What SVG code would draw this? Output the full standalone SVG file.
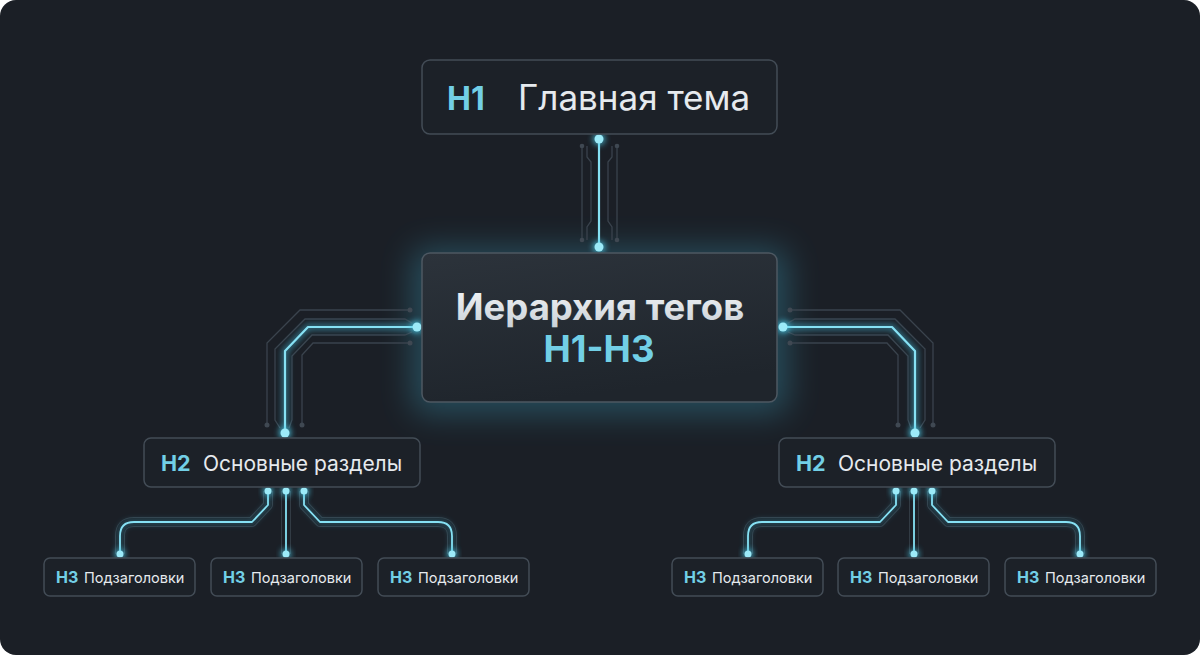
<svg xmlns="http://www.w3.org/2000/svg" xmlns:xlink="http://www.w3.org/1999/xlink" width="1200" height="655" viewBox="0 0 1200 655">
<defs>
<style>
.box{fill:#1c2128;stroke:#434c56;stroke-width:1.5}
.hl{font-family:Inter,"Noto Sans",sans-serif;font-weight:700;fill:#72cfe6}
.tx{font-family:Inter,"Noto Sans",sans-serif;font-weight:400;fill:#e6eaee}
.cy{fill:none;stroke:#86e1f4;stroke-width:2.2;stroke-linejoin:round}
.cyg{fill:none;stroke:#4cc6e6;stroke-width:6;opacity:0.5;filter:url(#blur3)}
.gr{fill:none;stroke:#3a434d;stroke-width:1.3}
.gd{fill:#3f4852}
.dot{fill:#9ceaf8}
.dotg{fill:#4fd0ee;opacity:0.8;filter:url(#blur3)}
.edge{fill:none;stroke:#323b44;stroke-width:10;stroke-linejoin:round}
.edgein{fill:none;stroke:#1b1f26;stroke-width:8;stroke-linejoin:round}
</style>
<filter id="blur3" x="-50%" y="-50%" width="200%" height="200%"><feGaussianBlur stdDeviation="3"/></filter>
<filter id="blur14" x="-30%" y="-30%" width="160%" height="160%"><feGaussianBlur stdDeviation="16"/></filter>
<linearGradient id="cbox" x1="0" y1="0" x2="0.3" y2="1">
<stop offset="0" stop-color="#2c333b"/>
<stop offset="1" stop-color="#1f252c"/>
</linearGradient>
<linearGradient id="ctext" x1="0" y1="0" x2="0" y2="1">
<stop offset="0" stop-color="#f4f6f8"/>
<stop offset="1" stop-color="#c9d0d6"/>
</linearGradient>
<g id="sideConn">
<path class="gr" d="M410,310 H300 L267,343 V425"/>
<path class="gr" d="M412,323 L405,319 H305 L275,349 V420 L280,428"/>
<path class="gr" d="M412,332 L405,335 H312 L292,356 V420 L289,428"/>
<path class="gr" d="M410,343 H313 L302,355 V425"/>
<circle class="gd" cx="410" cy="310" r="2.5"/>
<circle class="gd" cx="410" cy="343" r="2.5"/>
<circle class="gd" cx="267" cy="425" r="2.5"/>
<circle class="gd" cx="302" cy="425" r="2.5"/>
<path class="cyg" d="M417,327 H308 L285,351 V433"/>
<path class="cy" d="M417,327 H308 L285,351 V433"/>
<circle class="dotg" cx="417" cy="327" r="6"/>
<circle class="dot" cx="417" cy="327" r="4.5"/>
<circle class="dotg" cx="285" cy="433" r="6"/>
<circle class="dot" cx="285" cy="433" r="4.5"/>
<path class="edge" d="M268,491 V505 L252,522 H134 Q120,522 120,536 V554"/>
<path class="edge" d="M286,491 V554"/>
<path class="edge" d="M304,491 V505 L320,522 H438 Q452,522 452,536 V554"/>
<path class="edgein" d="M268,491 V505 L252,522 H134 Q120,522 120,536 V554"/>
<path class="edgein" d="M286,491 V554"/>
<path class="edgein" d="M304,491 V505 L320,522 H438 Q452,522 452,536 V554"/>
<path class="cyg" d="M268,491 V505 L252,522 H134 Q120,522 120,536 V554" style="stroke-width:4;opacity:0.4"/>
<path class="cyg" d="M286,491 V554" style="stroke-width:4;opacity:0.4"/>
<path class="cyg" d="M304,491 V505 L320,522 H438 Q452,522 452,536 V554" style="stroke-width:4;opacity:0.4"/>
<path class="cy" style="stroke-width:1.8" d="M268,491 V505 L252,522 H134 Q120,522 120,536 V554"/>
<path class="cy" style="stroke-width:1.8" d="M286,491 V554"/>
<path class="cy" style="stroke-width:1.8" d="M304,491 V505 L320,522 H438 Q452,522 452,536 V554"/>
<g>
<circle class="dotg" cx="268" cy="491" r="5"/><circle class="dot" cx="268" cy="491" r="3.5"/>
<circle class="dotg" cx="286" cy="491" r="5"/><circle class="dot" cx="286" cy="491" r="3.5"/>
<circle class="dotg" cx="304" cy="491" r="5"/><circle class="dot" cx="304" cy="491" r="3.5"/>
<circle class="dotg" cx="120" cy="554" r="5"/><circle class="dot" cx="120" cy="554" r="3.5"/>
<circle class="dotg" cx="286" cy="554" r="5"/><circle class="dot" cx="286" cy="554" r="3.5"/>
<circle class="dotg" cx="452" cy="554" r="5"/><circle class="dot" cx="452" cy="554" r="3.5"/>
</g>
</g>
</defs>
<rect x="0" y="0" width="1200" height="655" fill="#ffffff"/>
<rect x="0" y="0" width="1200" height="655" rx="16" fill="#1b1f26"/>

<rect x="412" y="248" width="376" height="166" rx="14" fill="#3fb7d8" opacity="0.3" filter="url(#blur14)"/>

<g id="connectors">
<path class="gr" d="M582,146 V240"/>
<path class="gr" d="M617,146 V240"/>
<path class="gr" d="M587,146 V157 L591,162 V221 L587,227 V240"/>
<path class="gr" d="M612,146 V157 L608,162 V221 L612,227 V240"/>
<circle class="gd" cx="582" cy="146" r="2.3"/>
<circle class="gd" cx="617" cy="146" r="2.3"/>
<circle class="gd" cx="582" cy="240" r="2.3"/>
<circle class="gd" cx="617" cy="240" r="2.3"/>
<path class="cyg" d="M599,139 V247"/>
<path class="cy" d="M599,139 V247"/>
<circle class="dotg" cx="599" cy="139" r="6"/>
<circle class="dot" cx="599" cy="139" r="4.5"/>
<circle class="dotg" cx="599" cy="247" r="6"/>
<circle class="dot" cx="599" cy="247" r="4.5"/>
<use xlink:href="#sideConn"/>
<use xlink:href="#sideConn" transform="translate(1200,0) scale(-1,1)"/>
</g>

<g id="node-h1">
<rect class="box" x="422" y="60" width="355" height="74" rx="8"/>
<text class="hl" x="447" y="110" font-size="32">H1</text>
<text class="tx" x="518" y="110" font-size="35">Главная тема</text>
</g>

<g id="node-center">
<rect x="422" y="253" width="355" height="149" rx="8" fill="url(#cbox)" stroke="#4d5862" stroke-width="1.5"/>
<text x="600" y="320" text-anchor="middle" font-family="Inter,'Noto Sans',sans-serif" font-weight="700" font-size="36.5" fill="url(#ctext)">Иерархия тегов</text>
<text x="599" y="362" text-anchor="middle" font-family="Inter,'Noto Sans',sans-serif" font-weight="700" font-size="36.5" fill="#72cfe6">H1-H3</text>
</g>

<g id="node-h2-left">
<rect class="box" x="144" y="438" width="276" height="49" rx="7"/>
<text class="hl" x="161" y="471" font-size="21.5">H2</text>
<text class="tx" x="203" y="471" font-size="21">Основные разделы</text>
</g>
<g id="node-h2-right">
<rect class="box" x="779" y="438" width="276" height="49" rx="7"/>
<text class="hl" x="796" y="471" font-size="21.5">H2</text>
<text class="tx" x="838" y="471" font-size="21">Основные разделы</text>
</g>

<g id="node-h3-1">
<rect class="box" x="44" y="558" width="151" height="38" rx="6"/>
<text class="hl" x="56" y="583" font-size="16">H3</text>
<text class="tx" x="84" y="583" font-size="14.5">Подзаголовки</text>
</g>
<g id="node-h3-2">
<rect class="box" x="211" y="558" width="151" height="38" rx="6"/>
<text class="hl" x="223" y="583" font-size="16">H3</text>
<text class="tx" x="251" y="583" font-size="14.5">Подзаголовки</text>
</g>
<g id="node-h3-3">
<rect class="box" x="378" y="558" width="151" height="38" rx="6"/>
<text class="hl" x="390" y="583" font-size="16">H3</text>
<text class="tx" x="418" y="583" font-size="14.5">Подзаголовки</text>
</g>
<g id="node-h3-4">
<rect class="box" x="672" y="558" width="151" height="38" rx="6"/>
<text class="hl" x="684" y="583" font-size="16">H3</text>
<text class="tx" x="712" y="583" font-size="14.5">Подзаголовки</text>
</g>
<g id="node-h3-5">
<rect class="box" x="838" y="558" width="151" height="38" rx="6"/>
<text class="hl" x="850" y="583" font-size="16">H3</text>
<text class="tx" x="878" y="583" font-size="14.5">Подзаголовки</text>
</g>
<g id="node-h3-6">
<rect class="box" x="1005" y="558" width="151" height="38" rx="6"/>
<text class="hl" x="1017" y="583" font-size="16">H3</text>
<text class="tx" x="1045" y="583" font-size="14.5">Подзаголовки</text>
</g>
</svg>
